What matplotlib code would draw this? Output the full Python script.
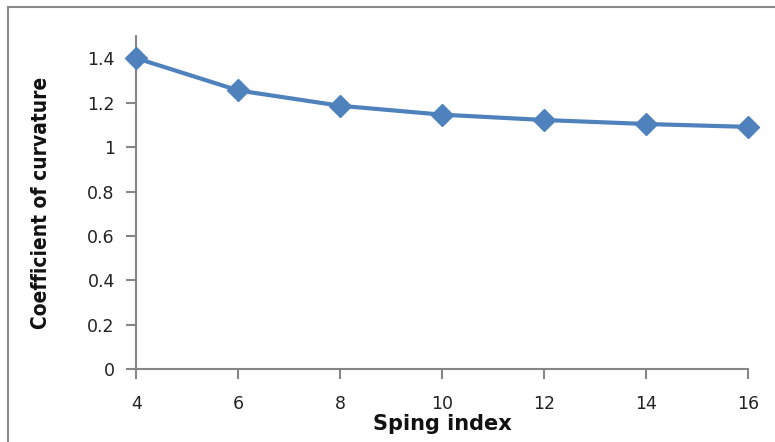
import matplotlib
matplotlib.use('Agg')
import matplotlib.pyplot as plt
from matplotlib.lines import Line2D

# spring index vs coefficient of curvature
spring_index = [4, 6, 8, 10, 12, 14, 16]
curvature = [1.40, 1.255, 1.186, 1.146, 1.122, 1.104, 1.091]
yticks = [0, 0.2, 0.4, 0.6, 0.8, 1, 1.2, 1.4]
ytick_labels = ['0', '0.2', '0.4', '0.6', '0.8', '1', '1.2', '1.4']
xticks = [4, 6, 8, 10, 12, 14, 16]

fig = plt.figure(figsize=(7.75, 4.42), dpi=100)
ax = fig.add_axes([0.176, 0.1645, 0.789, 0.754])

ax.plot(spring_index, curvature, color='#4F81BD', lw=3, marker='D',
        markersize=11, clip_on=False, zorder=5)

ax.set_xlim(4, 16)
ax.set_ylim(0, 1.5)
ax.set_yticks(yticks)
ax.set_yticklabels(ytick_labels)
ax.set_xticks(xticks)

for s in ['top', 'right']:
    ax.spines[s].set_visible(False)
for s in ['left', 'bottom']:
    ax.spines[s].set_color('#868686')
    ax.spines[s].set_linewidth(1.5)

ax.tick_params(axis='both', colors='#868686', width=1.5, length=7.5,
               labelcolor='#222222', labelsize=12.5)
ax.tick_params(axis='x', pad=11)
ax.tick_params(axis='y', pad=8)

ax.set_xlabel('Sping index', fontsize=15, fontweight='bold', labelpad=1,
              color='#111111')
ax.set_ylabel('Coefficient of curvature', fontsize=15, fontweight='bold',
              fontstretch='condensed', labelpad=26, color='#111111')

# grey frame (top and left edges visible)
fig.add_artist(Line2D([8/775, 1.0], [1-7/442, 1-7/442], color='#8a8a8a',
                      lw=1.5, transform=fig.transFigure))
fig.add_artist(Line2D([8/775, 8/775], [0, 1-7/442], color='#8a8a8a',
                      lw=1.5, transform=fig.transFigure))

fig.savefig('out.png', dpi=100)
